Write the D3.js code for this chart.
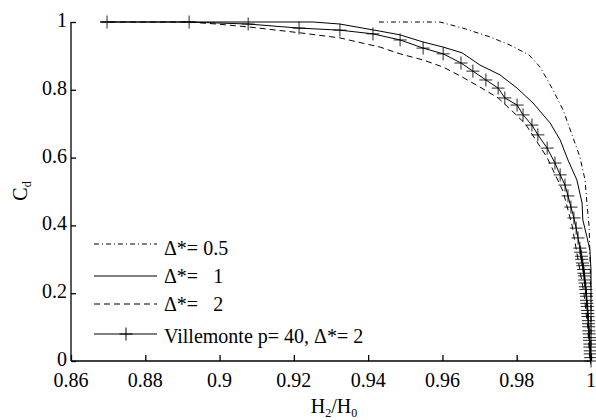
<!DOCTYPE html>
<html>
<head>
<meta charset="utf-8">
<script src="https://cdn.jsdelivr.net/npm/d3@7"></script>
<style>
  body { margin: 0; background: #fff; }
</style>
</head>
<body>
<svg id="chart" width="596" height="420"></svg>
<script>
// delta* = 0.5 (dash-dot)
var d05X = [0.9429, 0.9593, 0.9655, 0.9728, 0.9782, 0.9833, 0.9863, 0.9898, 0.9925, 0.9951, 0.9970, 0.9984, 0.9989, 0.9995, 0.9997, 1.0, 1.0];
var d05Y = [1.0, 1.0, 0.982, 0.956, 0.932, 0.903, 0.867, 0.799, 0.740, 0.661, 0.602, 0.534, 0.466, 0.395, 0.319, 0.18, 0];

// delta* = 1 (solid)
var d1X = [0.8681, 0.9252, 0.9324, 0.9432, 0.9486, 0.9548, 0.9602, 0.9653, 0.9701, 0.9755, 0.9801, 0.9844, 0.9890, 0.9917, 0.9938, 0.9962, 0.9976, 0.9978, 0.9989, 0.9997, 1.0, 1.0];
var d1Y = [1.0, 1.0, 0.994, 0.973, 0.962, 0.941, 0.926, 0.909, 0.873, 0.844, 0.805, 0.761, 0.702, 0.652, 0.593, 0.534, 0.466, 0.416, 0.366, 0.327, 0.268, 0];

// delta* = 2 (dashed)
var d2X = [0.8678, 0.8912, 0.8993, 0.9082, 0.9217, 0.9324, 0.9432, 0.9486, 0.9548, 0.9602, 0.9653, 0.9701, 0.9750, 0.9790, 0.9823, 0.9882, 0.9925, 0.9949, 0.9965, 0.9981, 0.9991, 0.9997];
var d2Y = [1.0, 1.0, 0.994, 0.985, 0.968, 0.953, 0.926, 0.906, 0.888, 0.867, 0.838, 0.808, 0.776, 0.735, 0.700, 0.600, 0.500, 0.400, 0.300, 0.200, 0.100, 0];

// Villemonte p = 40, delta* = 2 (solid with + markers)
var villeX = [0.8697, 0.8918, 0.9077, 0.9214, 0.9324, 0.9413, 0.9486, 0.9548, 0.9602, 0.9650, 0.9682, 0.9717, 0.9750, 0.9768, 0.9801, 0.9817, 0.9841, 0.9857, 0.9882, 0.9903, 0.9917, 0.9930, 0.9938, 0.9946, 0.9954, 0.9960, 0.9965, 0.9970,
  0.9972, 0.9974, 0.9975, 0.9977, 0.9978, 0.9980, 0.9981, 0.9982, 0.9983, 0.9984, 0.9985, 0.9986, 0.9987, 0.9988, 0.9988, 0.9989, 0.9990, 0.9991, 0.9991, 0.9992, 0.9993, 0.9993, 0.9994, 0.9994, 0.9995, 0.9996, 0.9996, 0.9997, 0.9997, 0.9998, 0.9998, 0.9999, 1.0];
var villeY = [1.0, 1.0, 0.994, 0.982, 0.976, 0.965, 0.947, 0.923, 0.906, 0.879, 0.855, 0.829, 0.805, 0.776, 0.755, 0.726, 0.696, 0.667, 0.628, 0.584, 0.549, 0.519, 0.487, 0.454, 0.422, 0.392, 0.363, 0.333,
  0.321, 0.309, 0.300, 0.289, 0.281, 0.270, 0.259, 0.251, 0.239, 0.230, 0.219, 0.211, 0.199, 0.191, 0.179, 0.170, 0.161, 0.149, 0.140, 0.131, 0.119, 0.110, 0.101, 0.089, 0.080, 0.069, 0.061, 0.050, 0.041, 0.030, 0.021, 0.010, 0.0];

var xTicks = [0.86, 0.88, 0.9, 0.92, 0.94, 0.96, 0.98, 1];
var yTicks = [0, 0.2, 0.4, 0.6, 0.8, 1];

var legendLabels = ["\u0394*= 0.5", "\u0394*=\u00a0\u00a0 1", "\u0394*=\u00a0\u00a0 2", "Villemonte p= 40, \u0394*= 2"];

var svg = d3.select("#chart");

var x = d3.scaleLinear().domain([0.86, 1]).range([71, 591]);
var y = d3.scaleLinear().domain([0, 1]).range([361, 22]);

function zip(xs, ys) {
    return xs.map(function(v, i) { return [v, ys[i]]; });
}

// text sits at the svg root with no class, the serif face only stuck that way
function serifText(sel, size) {
    return sel.style("font-family", "Liberation Serif")
        .style("font-size", size + "px")
        .attr("fill", "#000");
}

var line = d3.line()
    .x(function(d) { return x(d[0]); })
    .y(function(d) { return y(d[1]); });

var plusPath = "M-6.5,0H6.5M0,-6.5V6.5";

// series lines
svg.append("path").datum(zip(d05X, d05Y))
    .attr("d", line).attr("fill", "none").attr("stroke", "#000")
    .attr("stroke-width", 1).attr("stroke-dasharray", "5,3,1,3");

svg.append("path").datum(zip(d1X, d1Y))
    .attr("d", line).attr("fill", "none").attr("stroke", "#000")
    .attr("stroke-width", 1);

svg.append("path").datum(zip(d2X, d2Y))
    .attr("d", line).attr("fill", "none").attr("stroke", "#000")
    .attr("stroke-width", 1).attr("stroke-dasharray", "6,4");

var ville = zip(villeX, villeY);
svg.append("path").datum(ville)
    .attr("d", line).attr("fill", "none").attr("stroke", "#000")
    .attr("stroke-width", 1);

// + markers
svg.selectAll(null)
    .data(ville)
    .enter()
    .append("path")
    .attr("d", plusPath)
    .attr("transform", function(d) { return "translate(" + x(d[0]) + "," + y(d[1]) + ")"; })
    .attr("stroke", "#000")
    .attr("stroke-width", 1)
    .attr("stroke-opacity", 0.85);

// axes: lines and ticks from d3, labels drawn separately
var xAxis = svg.append("g")
    .attr("transform", "translate(0,361)")
    .call(d3.axisBottom(x).tickValues(xTicks).tickSize(-6).tickFormat(""));
xAxis.select(".domain").attr("d", "M71,0H591");
xAxis.selectAll(".tick text").remove();

var yAxis = svg.append("g")
    .attr("transform", "translate(71,0)")
    .call(d3.axisLeft(y).tickValues(yTicks).tickSize(-5).tickFormat(""));
yAxis.select(".domain").attr("d", "M0,22V361");
yAxis.selectAll(".tick text").remove();

svg.selectAll(".domain, .tick line").attr("stroke", "#000").attr("stroke-width", 1.3);

serifText(svg.selectAll(null).data(xTicks).enter().append("text"), 20)
    .attr("x", function(d) { return x(d); })
    .attr("y", 387)
    .attr("text-anchor", "middle")
    .text(function(d) { return String(+d.toFixed(2)); });

serifText(svg.selectAll(null).data(yTicks).enter().append("text"), 20)
    .attr("x", 67)
    .attr("y", function(d) { return y(d) + 5; })
    .attr("text-anchor", "end")
    .text(function(d) { return String(+d.toFixed(1)); });

// axis titles
var xt = serifText(svg.append("text"), 20)
    .attr("x", 334).attr("y", 413)
    .attr("text-anchor", "middle");
xt.append("tspan").text("H");
xt.append("tspan").attr("dy", 4).style("font-size", "12px").text("2");
xt.append("tspan").attr("dy", -4).text("/H");
xt.append("tspan").attr("dy", 4).style("font-size", "12px").text("0");

var yt = serifText(svg.append("text"), 20)
    .attr("transform", "translate(27,191)rotate(-90)")
    .attr("text-anchor", "middle");
yt.append("tspan").text("C");
yt.append("tspan").attr("dy", 4).style("font-size", "12px").text("d");

// legend
var legendLineY = [244, 276, 304, 334];
var legendTextY = [255, 283, 311, 343];
var legendDash = ["5,3,1,3", null, "6,4", null];

svg.selectAll(null)
    .data(legendLabels)
    .enter()
    .append("line")
    .attr("x1", 94).attr("x2", 157)
    .attr("y1", function(d, i) { return legendLineY[i]; })
    .attr("y2", function(d, i) { return legendLineY[i]; })
    .attr("stroke", "#000")
    .attr("stroke-width", 1)
    .attr("stroke-dasharray", function(d, i) { return legendDash[i]; });

serifText(svg.selectAll(null).data(legendLabels).enter().append("text"), 20)
    .attr("x", 164)
    .attr("y", function(d, i) { return legendTextY[i]; })
    .text(function(d) { return d; });

svg.append("path")
    .attr("d", plusPath)
    .attr("transform", "translate(126," + legendLineY[3] + ")")
    .attr("stroke", "#000")
    .attr("stroke-width", 1);
</script>
</body>
</html>
